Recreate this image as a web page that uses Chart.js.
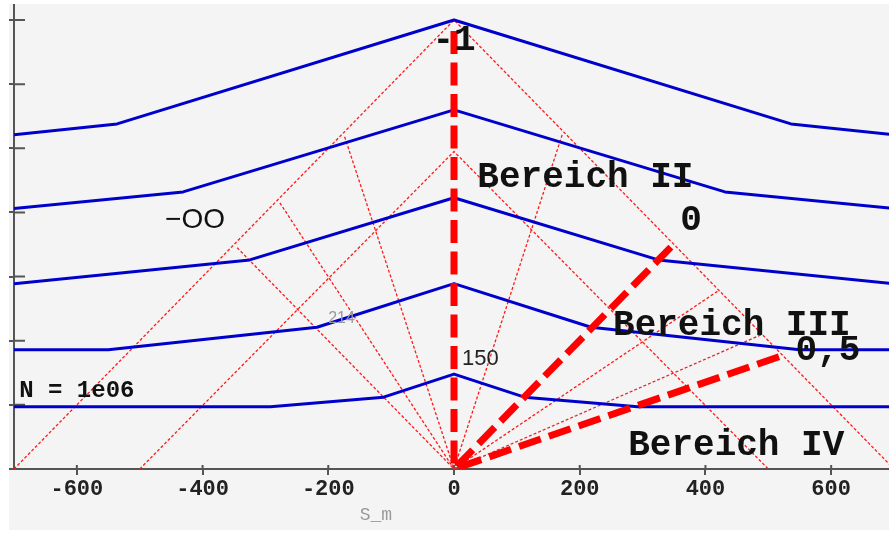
<!DOCTYPE html>
<html lang="de">
<head>
    <meta charset="UTF-8">
    <title>Bereiche</title>
    <script src="https://cdn.jsdelivr.net/npm/chart.js"></script>
    <style>
        body { margin: 0; background: #fff; }
        .chart-box {
            position: absolute;
            left: 9px;
            top: 4px;
            width: 880px;
            height: 526px;
            background: #f4f4f4;
        }
    </style>
</head>
<body>
    <div class="chart-box"><canvas id="chart"></canvas></div>

    <script>
        // blue curves (S_m, value)
        const curve1X = [-700, -536, 0, 536, 700];
        const curve1Y = [5.21, 5.38, 7.0, 5.38, 5.21];
        const curve2X = [-700, -431, 0, 431, 700];
        const curve2Y = [4.06, 4.32, 5.60, 4.32, 4.06];
        const curve3X = [-700, -325, 0, 325, 700];
        const curve3Y = [2.89, 3.26, 4.23, 3.26, 2.89];
        const curve4X = [-700, -550, -218, 0, 218, 550, 700];
        const curve4Y = [1.86, 1.86, 2.21, 2.89, 2.21, 1.86, 1.86];
        const curve5X = [-700, -292, -112, 0, 112, 292, 700];
        const curve5Y = [0.97, 0.97, 1.12, 1.48, 1.12, 0.97, 0.97];

        // thin red construction lines
        const outerX = [-700, 0, 700];
        const outerY = [0, 7, 0];
        const innerX = [-500, 0, 500];
        const innerY = [0, 4.95, 0];
        const fanEndX = [-345, -277, -174, 172, 419, 488];
        const fanEndY = [3.45, 4.15, 5.18, 5.21, 2.77, 2.09];

        // thick red boundaries (-1, 0, 0,5)
        const boundEndX = [0, 345, 517];
        const boundEndY = [6.83, 3.46, 1.75];

        const xTicks = [-600, -400, -200, 0, 200, 400, 600];

        // labels inside the plot
        const noteText = ['-1', 'Bereich II', '0', 'Bereich III', '0,5', 'Bereich IV', '150', '214', 'N = 1e06', '\u2212OO'];
        const noteX = [0, 209, 377, 442, 595, 449, 42, -179, -600, -412];
        const noteY = [6.54, 4.40, 3.73, 2.09, 1.70, 0.22, 1.62, 2.28, 1.12, 3.76];

        const mono = "'Liberation Mono', 'Courier New', monospace";
        const sans = "'Liberation Sans', Arial, sans-serif";
        const noteFont = [
            'bold 36px ' + mono, 'bold 36px ' + mono, 'bold 36px ' + mono, 'bold 36px ' + mono,
            'bold 36px ' + mono, 'bold 36px ' + mono, '22px ' + sans, '16px ' + sans,
            'bold 24px ' + mono, '28px ' + sans
        ];
        const noteColor = ['#111', '#111', '#111', '#111', '#111', '#111', '#222', '#999', '#111', '#111'];

        const pts = (xs, ys) => xs.map((x, i) => ({ x: x, y: ys[i] }));

        const blue = (xs, ys) => ({
            data: pts(xs, ys), borderColor: '#0000cc', borderWidth: 3, order: 1
        });
        const thin = (xs, ys) => ({
            data: pts(xs, ys), borderColor: '#ff1a1a', borderWidth: 1.3,
            borderDash: [3, 2], order: 2
        });
        const thick = (xs, ys) => ({
            data: pts(xs, ys), borderColor: '#ff0000', borderWidth: 7,
            borderDash: [23, 8.5], order: 0
        });

        const datasets = [
            thin(outerX, outerY),
            thin(innerX, innerY),
            ...fanEndX.map((x, i) => thin([x, 0], [fanEndY[i], 0])),
            blue(curve1X, curve1Y),
            blue(curve2X, curve2Y),
            blue(curve3X, curve3Y),
            blue(curve4X, curve4Y),
            blue(curve5X, curve5Y),
            ...boundEndX.map((x, i) => thick([x, 0], [boundEndY[i], 0]))
        ];

        // tick marks that reach into the plot
        const innerTicks = {
            id: 'innerTicks',
            beforeDatasetsDraw(chart) {
                const ctx = chart.ctx, area = chart.chartArea;
                const xs = chart.scales.x, ys = chart.scales.y;
                ctx.save();
                ctx.strokeStyle = '#555';
                ctx.lineWidth = 2;
                ctx.beginPath();
                ys.ticks.forEach(t => {
                    const py = ys.getPixelForValue(t.value);
                    ctx.moveTo(area.left, py);
                    ctx.lineTo(area.left + 11, py);
                });
                xs.ticks.forEach(t => {
                    const px = xs.getPixelForValue(t.value);
                    ctx.moveTo(px, area.bottom);
                    ctx.lineTo(px, area.bottom - 4);
                });
                ctx.stroke();
                ctx.restore();
            }
        };

        const notes = {
            id: 'notes',
            afterDatasetsDraw(chart) {
                const ctx = chart.ctx;
                const xs = chart.scales.x, ys = chart.scales.y;
                ctx.save();
                ctx.textAlign = 'center';
                ctx.textBaseline = 'alphabetic';
                noteText.forEach((t, i) => {
                    ctx.font = noteFont[i];
                    ctx.fillStyle = noteColor[i];
                    ctx.fillText(t, xs.getPixelForValue(noteX[i]), ys.getPixelForValue(noteY[i]));
                });
                ctx.restore();
            }
        };

        new Chart(document.getElementById('chart'), {
            type: 'scatter',
            data: { datasets: datasets },
            options: {
                responsive: true,
                maintainAspectRatio: false,
                animation: false,
                showLine: true,
                elements: {
                    point: { radius: 0, hoverRadius: 0 },
                    line: { tension: 0, borderCapStyle: 'butt', borderJoinStyle: 'round' }
                },
                layout: { padding: 0 },
                plugins: { legend: { display: false }, tooltip: { enabled: false } },
                scales: {
                    x: {
                        type: 'linear',
                        min: -700,
                        max: 692,
                        afterFit: s => { s.height = 61; },
                        afterBuildTicks: s => { s.ticks = xTicks.map(v => ({ value: v })); },
                        border: { color: '#555', width: 2 },
                        grid: { drawOnChartArea: false, color: '#555', lineWidth: 2, tickLength: 6 },
                        ticks: {
                            padding: 1,
                            color: '#222',
                            font: { family: mono, size: 22, weight: 'bold' }
                        },
                        title: {
                            display: true,
                            text: 'S_m' + '\u00a0'.repeat(14),
                            color: '#999',
                            font: { family: mono, size: 18 },
                            padding: { top: 0, bottom: 4 }
                        }
                    },
                    y: {
                        type: 'linear',
                        min: 0,
                        max: 7.25,
                        afterFit: s => { s.width = 5; },
                        border: { color: '#555', width: 2 },
                        grid: { drawOnChartArea: false, color: '#555', lineWidth: 2, tickLength: 6 },
                        ticks: { stepSize: 1, includeBounds: false, display: false }
                    }
                }
            },
            plugins: [innerTicks, notes]
        });
    </script>
</body>
</html>
